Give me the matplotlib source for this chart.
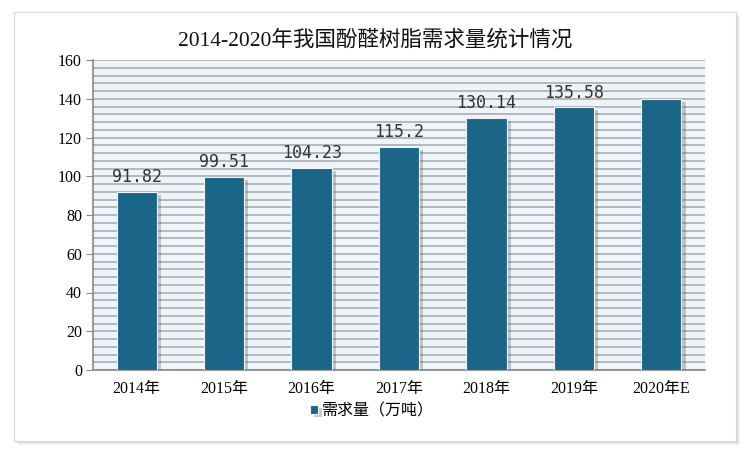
import numpy as np
import matplotlib
matplotlib.use("agg")
import matplotlib.pyplot as plt
import matplotlib.patheffects as pe
from matplotlib.patches import Rectangle

years = ["2014年", "2015年", "2016年", "2017年", "2018年", "2019年", "2020年E"]
demand = [91.82, 99.51, 104.23, 115.2, 130.14, 135.58, 140]
labels = ["91.82", "99.51", "104.23", "115.2", "130.14", "135.58", ""]

fonts = ["Liberation Serif", "Noto Sans CJK SC", "DejaVu Sans"]
plt.rcParams["font.family"] = fonts

fig = plt.figure(figsize=(7.5, 4.57), dpi=100)
fig.patch.set_facecolor("white")

# outer panel with soft shadow
W, H = 750, 457
for i, a in enumerate([0.04, 0.05, 0.05, 0.06]):
    off = 4 - i
    fig.patches.append(Rectangle(((14 + off) / W, 1 - (441 + off) / H), 722 / W, 429 / H,
                                 transform=fig.transFigure, facecolor="black", alpha=a,
                                 edgecolor="none", zorder=0))
fig.patches.append(Rectangle((14 / W, 1 - 441 / H), 722 / W, 429 / H,
                             transform=fig.transFigure, facecolor="white",
                             edgecolor="#d8d8d8", linewidth=0.8, zorder=1))

ax = fig.add_axes([93 / W, 1 - 370 / H, 612 / W, 310 / H])
ax.set_facecolor("#edf4fa")
ax.set_zorder(2)

x = np.arange(len(years))
bars = ax.bar(x, demand, width=0.46, color="#1b6589", edgecolor="#f0f4f7",
              linewidth=0.8, zorder=3, label="需求量（万吨）")
for b in bars:
    b.set_path_effects([pe.SimplePatchShadow(offset=(3, -2), alpha=0.3, shadow_rgbFace="#555555"), pe.Normal()])

for xi, v, lab in zip(x, demand, labels):
    ax.text(xi, v + 3, lab, ha="center", va="bottom", fontsize=12,
            family=["DejaVu Sans Mono", "Noto Sans CJK SC"], color="#333333", zorder=4)

ax.set_ylim(0, 160)
ax.set_xlim(-0.5, len(years) - 0.5)
ax.set_yticks(np.arange(0, 161, 20))
ax.set_yticks(np.arange(0, 161, 4), minor=True)
ax.yaxis.grid(True, which="both", color="#b2b2b2", linewidth=1.3, zorder=1)
ax.set_axisbelow(True)
ax.tick_params(axis="y", which="minor", length=0)
ax.tick_params(axis="y", which="major", length=5, color="#888888", labelsize=11.5, pad=3)
ax.tick_params(axis="x", length=0, labelsize=11.5, pad=8)
ax.set_xticks(x)
ax.set_xticklabels(years)
for s in ["top", "right"]:
    ax.spines[s].set_visible(False)
ax.spines["left"].set_color("#888888")
ax.spines["bottom"].set_color("#888888")
ax.spines["left"].set_linewidth(1.2)
ax.spines["bottom"].set_linewidth(1.2)

fig.text(0.5, 1 - 40 / H, "2014-2020年我国酚醛树脂需求量统计情况", ha="center", va="center",
         fontsize=15.5, family=fonts, color="#111111")

leg = fig.legend(handles=[bars], labels=["需求量（万吨）"], loc="center",
                 bbox_to_anchor=(372 / W, 1 - 411 / H), frameon=False, fontsize=11.5,
                 handlelength=0.5, handleheight=0.5, handletextpad=0.3)

fig.savefig("out.png", dpi=100)
